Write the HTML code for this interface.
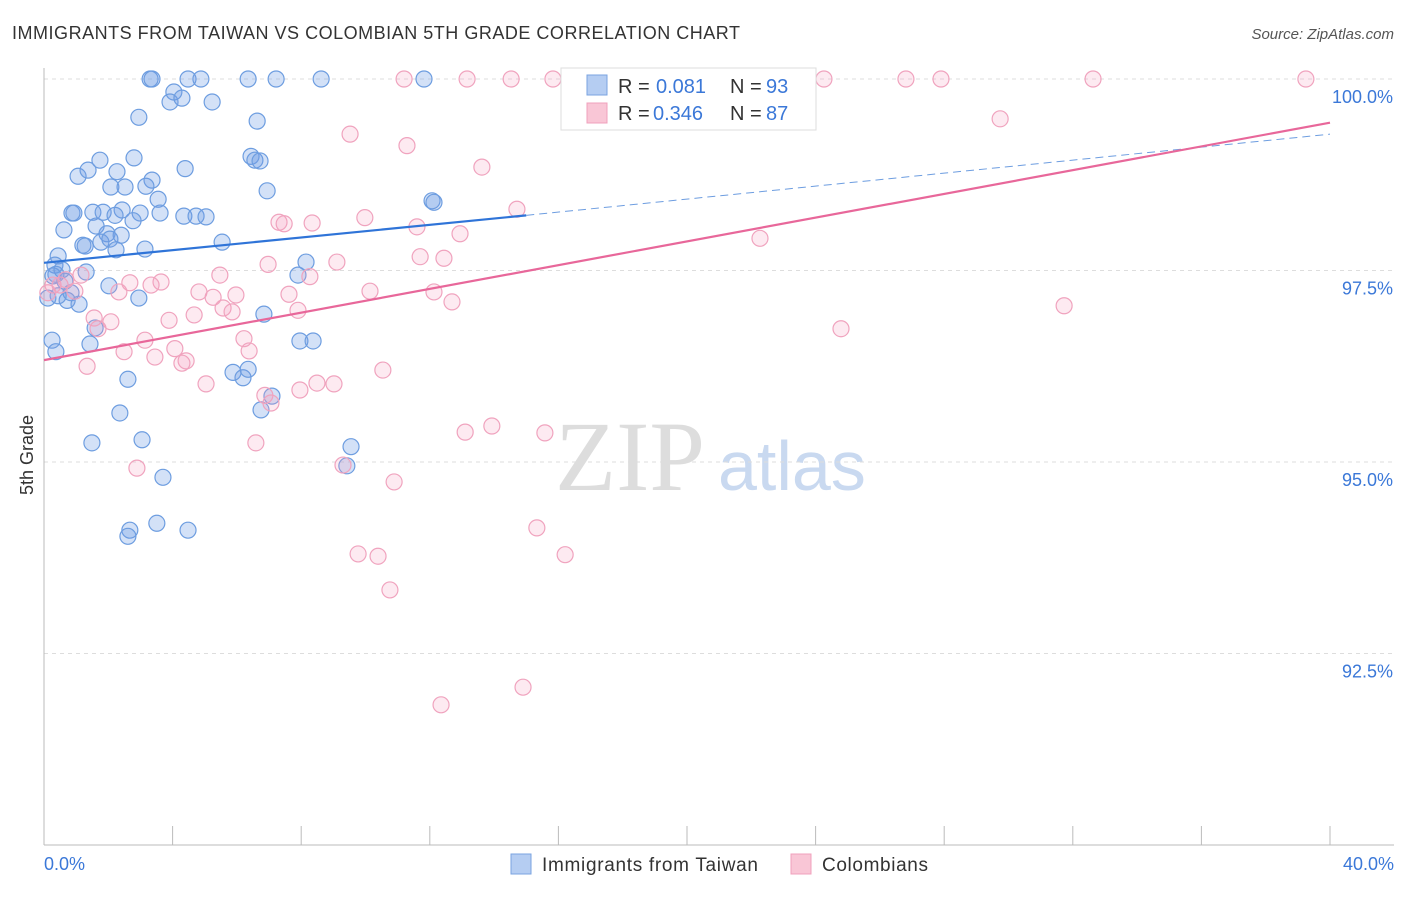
<!DOCTYPE html>
<html><head><meta charset="utf-8"><style>
body{margin:0;background:#fff;font-family:"Liberation Sans",sans-serif;}
svg text{font-family:"Liberation Sans",sans-serif;}
</style></head><body>
<svg id="c" width="1406" height="892">
<text x="12" y="39" font-size="18" fill="#333" textLength="728" lengthAdjust="spacing">IMMIGRANTS FROM TAIWAN VS COLOMBIAN 5TH GRADE CORRELATION CHART</text>
<text x="1394" y="39" font-size="15" fill="#555" font-style="italic" text-anchor="end">Source: ZipAtlas.com</text>
<text x="33" y="455" font-size="18" fill="#333" transform="rotate(-90 33 455)" text-anchor="middle">5th Grade</text>
<text x="555" y="490" font-size="100" fill="#ddd" style="font-family:'Liberation Serif',serif">ZIP</text>
<text x="718" y="490" font-size="70" fill="#c9d9f0">atlas</text>
<g id="grid"></g><g id="pts"></g><g id="trend"></g>
<g>
<rect x="561" y="68" width="255" height="62" fill="#fff" stroke="#ddd"/>
<rect x="587" y="75" width="20" height="20" fill="#b5cdf2" stroke="#7aa3e0"/>
<rect x="587" y="103" width="20" height="20" fill="#f9c6d6" stroke="#f0a0bc"/>
<text x="618" y="93" font-size="20" fill="#333">R =</text><text x="656" y="93" font-size="20" fill="#3b78d8">0.081</text>
<text x="730" y="93" font-size="20" fill="#333">N =</text><text x="766" y="93" font-size="20" fill="#3b78d8">93</text>
<text x="618" y="120" font-size="20" fill="#333">R =</text><text x="653" y="120" font-size="20" fill="#3b78d8">0.346</text>
<text x="730" y="120" font-size="20" fill="#333">N =</text><text x="766" y="120" font-size="20" fill="#3b78d8">87</text>
</g>
<g>
<rect x="511" y="854" width="20" height="20" fill="#b5cdf2" stroke="#7aa3e0"/>
<text x="542" y="871" font-size="19" fill="#333" textLength="216" lengthAdjust="spacing">Immigrants from Taiwan</text>
<rect x="791" y="854" width="20" height="20" fill="#f9c6d6" stroke="#f0a0bc"/>
<text x="822" y="871" font-size="19" fill="#333" textLength="106" lengthAdjust="spacing">Colombians</text>
</g>
</svg>
<script>
const yTicks=[100,97.5,95,92.5];
const yTickLabels=["100.0%","97.5%","95.0%","92.5%"];
const xTickVals=[0,4,8,12,16,20,24,28,32,36,40];
const blueX=[3.30,3.36,4.48,4.88,6.35,7.22,8.62,11.82,4.04,3.92,4.29,5.23,2.95,6.63,1.74,2.80,6.44,6.56,6.72,1.06,1.37,2.27,3.36,4.39,2.08,2.52,3.17,6.94,3.55,12.07,12.13,0.87,0.93,1.52,1.84,2.43,2.21,2.99,3.61,4.35,4.73,5.04,0.62,1.62,2.77,1.96,2.40,1.21,1.28,1.77,2.05,2.24,3.14,5.54,0.44,0.34,0.56,0.37,1.31,0.28,0.65,0.84,0.72,1.09,0.44,2.02,2.95,7.90,8.15,6.84,0.25,1.43,7.96,8.37,0.37,1.59,2.61,5.88,6.19,6.35,7.09,2.36,6.75,1.49,3.05,9.55,9.42,3.70,2.67,2.61,3.51,4.48,0.12];
const blueY=[100,100,100,100,100,100,100,100,99.83,99.70,99.75,99.70,99.50,99.45,98.94,98.97,98.99,98.94,98.93,98.73,98.81,98.79,98.68,98.83,98.59,98.59,98.60,98.54,98.43,98.41,98.39,98.25,98.25,98.26,98.26,98.29,98.22,98.25,98.25,98.21,98.21,98.20,98.03,98.08,98.15,97.98,97.96,97.83,97.82,97.87,97.91,97.77,97.78,97.87,97.69,97.57,97.51,97.45,97.48,97.43,97.36,97.21,97.11,97.06,97.17,97.30,97.14,97.44,97.61,96.93,96.59,96.54,96.58,96.58,96.44,96.75,96.08,96.17,96.10,96.21,95.86,95.64,95.68,95.25,95.29,95.20,94.95,94.80,94.11,94.03,94.20,94.11,97.14];
const pinkX=[11.20,13.16,14.53,15.83,17.73,19.75,20.96,24.26,26.81,27.90,32.63,39.25,9.52,29.74,11.29,13.62,14.71,7.31,7.47,8.34,9.98,11.60,12.94,22.27,6.97,9.11,11.70,12.44,5.47,8.27,0.28,0.50,0.96,1.15,2.67,2.33,3.64,3.33,4.82,5.26,5.97,7.62,10.14,12.13,12.69,5.57,5.85,7.90,4.67,3.89,1.56,2.08,31.73,24.79,1.68,3.14,4.07,6.22,6.38,2.49,3.45,4.42,4.29,1.34,5.04,7.96,8.49,9.02,10.54,6.87,7.06,13.10,13.93,15.58,6.59,9.30,2.89,10.89,15.33,9.77,10.39,16.21,10.76,14.90,12.35,0.12,0.68];
const pinkY=[100,100,100,100,100,100,100,100,100,100,100,100,99.28,99.48,99.13,98.85,98.30,98.13,98.11,98.12,98.19,98.07,97.98,97.92,97.58,97.61,97.68,97.66,97.44,97.42,97.31,97.31,97.23,97.44,97.34,97.22,97.35,97.31,97.22,97.15,97.18,97.19,97.23,97.22,97.09,97.01,96.96,96.98,96.92,96.85,96.88,96.83,97.04,96.74,96.74,96.59,96.48,96.61,96.45,96.44,96.37,96.32,96.29,96.25,96.02,95.94,96.03,96.02,96.20,95.87,95.77,95.39,95.47,95.38,95.25,94.96,94.92,94.74,94.14,93.80,93.77,93.79,93.33,92.06,91.83,97.21,97.38];
const blueTrendX=[0,15,40];
const blueTrendY=[97.60,98.22,99.28];
const pinkTrendX=[0,40];
const pinkTrendY=[96.33,99.43];

const NS="http://www.w3.org/2000/svg";
const xs=v=>44+v/40*1286;
const ys=v=>79+(100-v)/2.5*191.5;
function mk(tag,attrs,parent){const e=document.createElementNS(NS,tag);for(const k in attrs)e.setAttribute(k,attrs[k]);parent.appendChild(e);return e;}
const grid=document.getElementById('grid');
yTicks.forEach((t,i)=>{
 const l=mk('line',{x1:44,x2:1394,y1:ys(t),y2:ys(t),stroke:'#ddd','stroke-dasharray':'4,4'},grid);
 
 
 const tx=mk('text',{x:1393,y:ys(t)+24,'font-size':18,fill:'#3b78d8','text-anchor':'end'},grid);
 tx.textContent=yTickLabels[i];
 
 
});
let ax=mk('line',{x1:44,x2:44,y1:68,y2:845,stroke:'#bbb'},grid);


ax=mk('line',{x1:44,x2:1394,y1:845,y2:845,stroke:'#bbb'},grid);


xTickVals.forEach(t=>{
 const l=mk('line',{x1:xs(t),x2:xs(t),y1:826,y2:845,stroke:'#bbb'},grid);
 
 
});
let xl=mk('text',{x:44,y:870,'font-size':18,fill:'#3b78d8'},grid);xl.textContent='0.0%';


xl=mk('text',{x:1394,y:870,'font-size':18,fill:'#3b78d8','text-anchor':'end'},grid);xl.textContent='40.0%';


const pts=document.getElementById('pts');
blueX.forEach((v,i)=>{
 const c=mk('circle',{cx:xs(v),cy:ys(blueY[i]),r:8,fill:'rgba(110,155,230,0.3)',stroke:'#6d9de0','stroke-width':1.2},pts);
 
 
});
pinkX.forEach((v,i)=>{
 const c=mk('circle',{cx:xs(v),cy:ys(pinkY[i]),r:8,fill:'rgba(245,160,190,0.22)',stroke:'#f0a3be','stroke-width':1.2},pts);
 
 
});
const tr=document.getElementById('trend');
let t1=mk('line',{x1:xs(blueTrendX[0]),y1:ys(blueTrendY[0]),x2:xs(blueTrendX[1]),y2:ys(blueTrendY[1]),stroke:'#2f74d8','stroke-width':2.2},tr);


let t2=mk('line',{x1:xs(blueTrendX[1]),y1:ys(blueTrendY[1]),x2:xs(blueTrendX[2]),y2:ys(blueTrendY[2]),stroke:'#6d9de0','stroke-width':1,'stroke-dasharray':'8,5'},tr);


let t3=mk('line',{x1:xs(pinkTrendX[0]),y1:ys(pinkTrendY[0]),x2:xs(pinkTrendX[1]),y2:ys(pinkTrendY[1]),stroke:'#e8679a','stroke-width':2.2},tr);


</script>
</body></html>
